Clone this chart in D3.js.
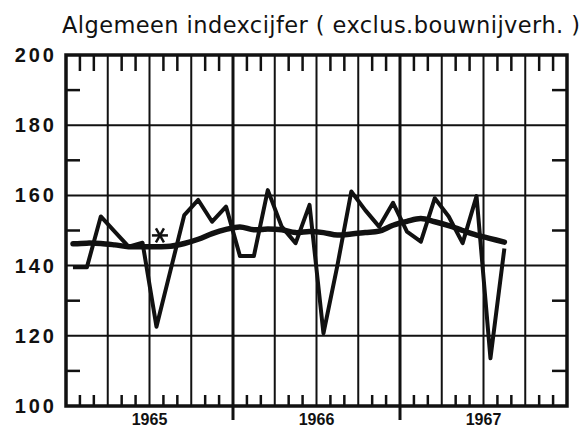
<!DOCTYPE html>
<html>
<head>
<meta charset="utf-8">
<script src="https://cdn.jsdelivr.net/npm/d3@7"></script>
<style>
  body { margin: 0; background: #fff; }
  svg { display: block; }
</style>
</head>
<body>
<div id="chart"></div>
<script>
// Monthly values, Jan 1965 .. Aug 1967
var monthly = [139.5, 139.5, 154.0, 149.7, 145.4, 146.5, 122.6, 138.5, 154.4, 158.7, 152.5, 156.8,
               142.7, 142.7, 161.5, 151.1, 146.4, 157.3, 120.7, 140.0, 161.1, 155.8, 151.1, 157.9,
               149.7, 146.8, 159.2, 154.0, 146.4, 159.8, 113.6, 144.9];

// Smoothed trend
var trend = [146.2, 146.4, 146.3, 145.9, 145.4, 145.4, 145.4, 145.5, 146.3, 147.5, 149.1, 150.3,
             151.0, 150.2, 150.4, 150.2, 149.4, 149.7, 149.4, 148.7, 149.0, 149.4, 149.8, 151.5,
             152.6, 153.4, 152.5, 151.4, 150.0, 148.7, 147.7, 146.7];

var years = ["1965", "1966", "1967"];
var yTicks = [100, 120, 140, 160, 180, 200];
var yMinor = [110, 130, 150, 170, 190];
var title = "Algemeen indexcijfer ( exclus.bouwnijverh. )";
var markMonth = 6.75;   // where the asterisk sits
var markValue = 148.6;

var width = 585, height = 430;

var x = d3.scaleLinear().domain([0, 36]).range([66, 567]);
var y = d3.scaleLinear().domain([100, 200]).range([406, 55]);

var svg = d3.select("#chart").append("svg")
    .attr("width", width)
    .attr("height", height);

// grid: quarter lines and 20-step horizontal lines
var quarters = d3.range(3, 36, 3);
svg.selectAll("line.vgrid")
    .data(quarters)
    .enter()
    .append("line")
    .attr("class", "vgrid")
    .attr("x1", function (d) { return x(d); })
    .attr("x2", function (d) { return x(d); })
    .attr("y1", y(200))
    .attr("y2", function (d) { return d % 12 == 0 ? 420 : y(100); })
    .attr("stroke", "#111")
    .attr("stroke-width", function (d) { return d % 12 == 0 ? 3 : 2; });

svg.selectAll("line.hgrid")
    .data(yTicks.slice(1, -1))
    .enter()
    .append("line")
    .attr("class", "hgrid")
    .attr("x1", x(0))
    .attr("x2", x(36))
    .attr("y1", function (d) { return y(d); })
    .attr("y2", function (d) { return y(d); })
    .attr("stroke", "#111")
    .attr("stroke-width", 2);

// month ticks top and bottom
var months = d3.range(1, 36).filter(function (m) { return m % 3 != 0; });
svg.selectAll("line.ttick")
    .data(months)
    .enter()
    .append("line")
    .attr("x1", function (d) { return x(d); })
    .attr("x2", function (d) { return x(d); })
    .attr("y1", y(200))
    .attr("y2", y(200) + 16)
    .attr("stroke", "#111")
    .attr("stroke-width", 2.5);

svg.selectAll("line.btick")
    .data(months)
    .enter()
    .append("line")
    .attr("x1", function (d) { return x(d); })
    .attr("x2", function (d) { return x(d); })
    .attr("y1", y(100))
    .attr("y2", y(100) - 11)
    .attr("stroke", "#111")
    .attr("stroke-width", 2.5);

// minor ticks left and right
svg.selectAll("line.ltick")
    .data(yMinor)
    .enter()
    .append("line")
    .attr("x1", x(0))
    .attr("x2", x(0) + 14)
    .attr("y1", function (d) { return y(d); })
    .attr("y2", function (d) { return y(d); })
    .attr("stroke", "#111")
    .attr("stroke-width", 2.5);

svg.selectAll("line.rtick")
    .data(yMinor)
    .enter()
    .append("line")
    .attr("x1", x(36))
    .attr("x2", x(36) - 15)
    .attr("y1", function (d) { return y(d); })
    .attr("y2", function (d) { return y(d); })
    .attr("stroke", "#111")
    .attr("stroke-width", 2.5);

// frame
svg.append("rect")
    .attr("x", x(0))
    .attr("y", y(200))
    .attr("width", x(36) - x(0))
    .attr("height", y(100) - y(200))
    .attr("fill", "none")
    .attr("stroke", "#111")
    .attr("stroke-width", 3.5);

// data lines
var line = d3.line()
    .x(function (d, i) { return x(i + 0.5); })
    .y(function (d) { return y(d); });

svg.append("path")
    .datum(trend)
    .attr("d", line.curve(d3.curveCatmullRom))
    .attr("fill", "none")
    .attr("stroke", "#111")
    .attr("stroke-width", 5.5)
    .attr("stroke-linecap", "round");

svg.append("path")
    .datum(monthly)
    .attr("d", line.curve(d3.curveLinear))
    .attr("fill", "none")
    .attr("stroke", "#111")
    .attr("stroke-width", 4)
    .attr("stroke-linejoin", "round");

// asterisk
var ax = x(markMonth), ay = y(markValue), r = 8;
[0, 60, 120].forEach(function (a) {
    var t = a * Math.PI / 180;
    svg.append("line")
        .attr("x1", ax - r * Math.cos(t))
        .attr("x2", ax + r * Math.cos(t))
        .attr("y1", ay - r * Math.sin(t))
        .attr("y2", ay + r * Math.sin(t))
        .attr("stroke", "#111")
        .attr("stroke-width", 2.5);
});

// labels
svg.selectAll("text.ylab")
    .data(yTicks)
    .enter()
    .append("text")
    .attr("x", 57)
    .attr("y", function (d) { return y(d) + 7; })
    .attr("text-anchor", "end")
    .style("font-family", "Liberation Sans")
    .style("font-weight", "bold")
    .style("font-size", "20px")
    .style("letter-spacing", "3px")
    .attr("fill", "#111")
    .text(function (d) { return d; });

svg.selectAll("text.year")
    .data(years)
    .enter()
    .append("text")
    .attr("x", function (d, i) { return x(i * 12 + 6); })
    .attr("y", 425)
    .attr("text-anchor", "middle")
    .style("font-family", "Liberation Sans")
    .style("font-weight", "bold")
    .style("font-size", "16px")
    .attr("fill", "#111")
    .text(function (d) { return d; });

svg.append("text")
    .attr("x", 62)
    .attr("y", 33)
    .attr("textLength", 518)
    .attr("lengthAdjust", "spacing")
    .style("font-family", "DejaVu Sans")
    .style("font-size", "22.5px")
    .attr("fill", "#111")
    .text(title);
</script>
</body>
</html>
